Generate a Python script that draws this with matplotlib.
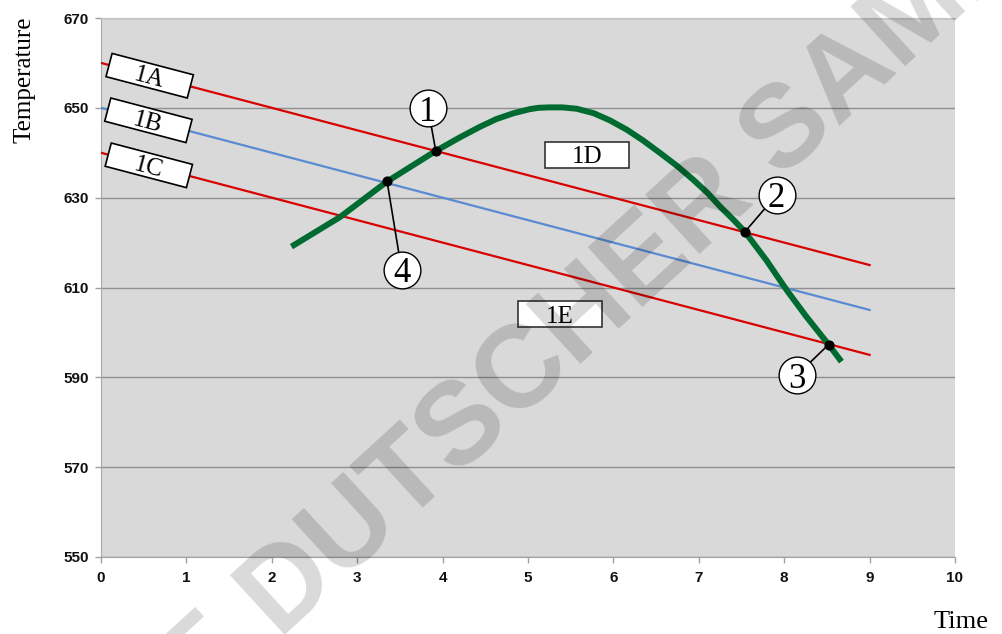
import numpy as np
import matplotlib.pyplot as plt
from matplotlib.patches import Rectangle
from matplotlib.transforms import Affine2D, IdentityTransform

# --- data ---
line_x = [0, 9]
line_1a = [660, 615]
line_1b = [650, 605]
line_1c = [640, 595]

curve_t = [2.23, 2.80, 3.35, 3.92, 4.20, 4.44, 4.63, 4.83, 5.02, 5.12, 5.25, 5.40,
           5.57, 5.77, 5.96, 6.16, 6.35, 6.55, 6.75, 6.94, 7.10, 7.25, 7.40, 7.54,
           7.79, 8.03, 8.26, 8.52, 8.67]
curve_T = [619.1, 625.7, 633.6, 640.4, 643.4, 645.8, 647.5, 648.8, 649.7, 650.0, 650.1, 650.1,
           649.8, 648.8, 647.2, 645.1, 642.7, 639.9, 637.0, 633.9, 631.1, 628.0, 625.2, 622.4,
           616.1, 609.4, 603.5, 597.3, 593.5]

# marked crossing points and their numbered callouts
pt_labels = ["1", "2", "3", "4"]
pt_x = [3.92, 7.54, 8.52, 3.35]
pt_y = [640.4, 622.4, 597.3, 633.6]
call_x = [3.83, 7.91, 8.15, 3.52]
call_y = [649.9, 630.6, 590.5, 613.9]

line_labels = ["1A", "1B", "1C"]
line_label_x = [0.57, 0.555, 0.56]

zone_labels = ["1D", "1E"]
zone_x = [5.69, 5.37]
zone_y = [639.5, 604.1]

xticks = np.arange(0, 11, 1)
yticks = np.arange(550, 671, 20)

red = "#d80000"
blue = "#5a8ad2"
green = "#006b30"
serif = "Liberation Serif"

plt.rcParams["font.family"] = "Liberation Sans"

fig = plt.figure(figsize=(10.03, 6.34), dpi=100)
ax = fig.add_axes([101 / 1003, 77 / 634, 854 / 1003, 539 / 634])
ax.set_facecolor("#d9d9d9")
ax.set_xlim(0, 10)
ax.set_ylim(550, 670)

ax.set_xticks(xticks)
ax.set_yticks(yticks)
ax.tick_params(axis="both", direction="out", length=4, width=1, color="#a0a0a0",
               labelsize=11, labelcolor="#111111")
ax.tick_params(axis="x", pad=6)
ax.tick_params(axis="y", pad=5)
for lbl in ax.get_xticklabels() + ax.get_yticklabels():
    lbl.set_fontweight("bold")

ax.grid(axis="y", color="#8f8f8f", linewidth=1)
ax.set_axisbelow(True)
ax.spines["right"].set_visible(False)
ax.spines["top"].set_color("#c4c4c4")
ax.spines["left"].set_color("#a8a8a8")
ax.spines["bottom"].set_color("#a0a0a0")

# --- reference lines ---
ax.plot(line_x, line_1a, color=red, lw=1.6, zorder=3)
ax.plot(line_x, line_1b, color=blue, lw=1.6, zorder=3)
ax.plot(line_x, line_1c, color=red, lw=1.6, zorder=3)

# --- measured curve ---
ax.plot(curve_t, curve_T, color=green, lw=4.3, solid_capstyle="butt",
        solid_joinstyle="round", zorder=4)

# --- callouts ---
for px, py, cx, cy in zip(pt_x, pt_y, call_x, call_y):
    ax.plot([px, cx], [py, cy], color="black", lw=1.2, zorder=5)
ax.scatter(pt_x, pt_y, s=40, color="black", zorder=6)
ax.scatter(call_x, call_y, s=700, facecolor="white", edgecolor="black", lw=1, zorder=7)
for lab, cx, cy in zip(pt_labels, call_x, call_y):
    ax.text(cx, cy, lab, family=serif, fontsize=25, ha="center",
            va="center_baseline", zorder=8)

# --- rotated line labels ---
p0 = ax.transData.transform((0, 660))
p1 = ax.transData.transform((9, 615))
angle = np.degrees(np.arctan2(p1[1] - p0[1], p1[0] - p0[0]))
for lab, lx, ys in zip(line_labels, line_label_x, [line_1a, line_1b, line_1c]):
    ly = ys[0] + (ys[1] - ys[0]) * lx / 9
    cx, cy = ax.transData.transform((lx, ly))
    box = Rectangle((-42, -12), 84, 24, facecolor="white", edgecolor="black", lw=1.2,
                    transform=Affine2D().rotate_deg(angle).translate(cx, cy),
                    zorder=7, clip_on=False)
    ax.add_patch(box)
    ax.text(lx, ly, lab, family=serif, fontsize=18, rotation=angle,
            rotation_mode="anchor", ha="center", va="center_baseline", zorder=8)

# --- zone labels ---
for lab, zx, zy in zip(zone_labels, zone_x, zone_y):
    cx, cy = ax.transData.transform((zx, zy))
    box = Rectangle((cx - 42, cy - 13), 84, 26, facecolor="white", edgecolor="#333333",
                    lw=1.2, transform=IdentityTransform(), zorder=7, clip_on=False)
    ax.add_patch(box)
    ax.text(zx, zy, lab, family=serif, fontsize=18, ha="center",
            va="center_baseline", zorder=8)

# --- axis titles ---
fig.text(24 / 1003, 1 - 80 / 634, "Temperature", family=serif, fontsize=18,
         rotation=90, ha="center", va="center")
fig.text(961 / 1003, 1 - 622 / 634, "Time", family=serif, fontsize=19,
         ha="center", va="center")

# --- watermark ---
fig.text(198 / 1003, 1 - 714 / 634, "E DUTSCHER SAMPLE", fontsize=84, fontweight="bold",
         color="black", alpha=0.15, rotation=42.5, rotation_mode="anchor",
         ha="left", va="baseline", zorder=20)

fig.savefig("out.png", dpi=100)
plt.close(fig)
